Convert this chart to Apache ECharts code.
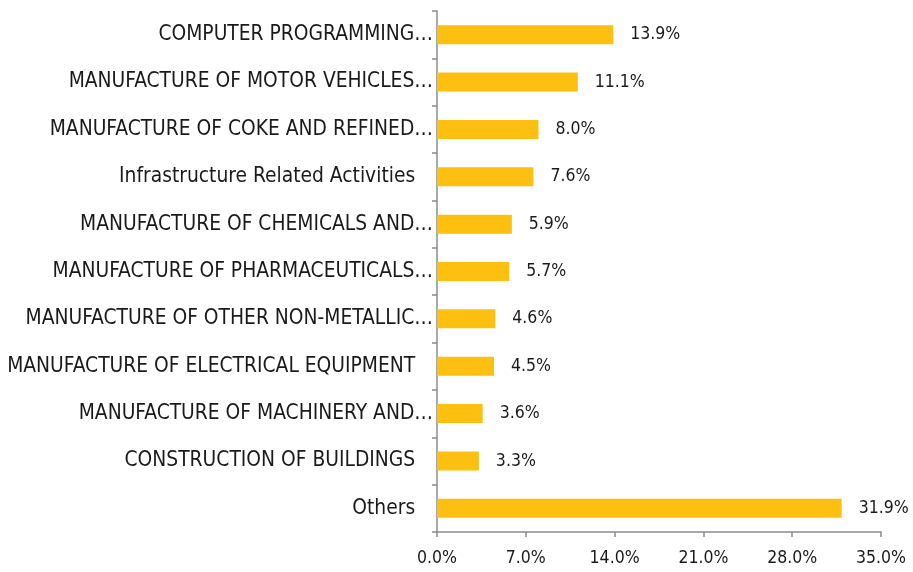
<!DOCTYPE html>
<html>
<head>
<meta charset="utf-8">
<script src="https://cdn.jsdelivr.net/npm/echarts@6/dist/echarts.min.js"></script>
<style>
  html, body { margin: 0; padding: 0; background: #fff; }
  #chart { width: 913px; height: 572px; }
</style>
</head>
<body>
<div id="chart"></div>
<script>
// 行业类别（从上到下）
const categories = [
  'COMPUTER PROGRAMMING…',
  'MANUFACTURE OF MOTOR VEHICLES…',
  'MANUFACTURE OF COKE AND REFINED…',
  'Infrastructure Related Activities   ',
  'MANUFACTURE OF CHEMICALS AND…',
  'MANUFACTURE OF PHARMACEUTICALS…',
  'MANUFACTURE OF OTHER NON-METALLIC…',
  'MANUFACTURE OF ELECTRICAL EQUIPMENT   ',
  'MANUFACTURE OF MACHINERY AND…',
  'CONSTRUCTION OF BUILDINGS   ',
  'Others   '
];
// 占比 (%)
const shares = [13.9, 11.1, 8.0, 7.6, 5.9, 5.7, 4.6, 4.5, 3.6, 3.3, 31.9];
// X轴刻度
const xMin = 0;
const xMax = 35;
const xStep = 7;

const chart = echarts.init(document.getElementById('chart'));
const font = 'DejaVu Sans Condensed';
const axisGrey = '#8c8c8c';

chart.setOption({
  animation: false,
  grid: { left: 437, right: 32, top: 11, bottom: 40 },
  xAxis: {
    type: 'value',
    min: xMin,
    max: xMax,
    interval: xStep,
    splitLine: { show: false },
    axisLine: { show: true, lineStyle: { color: axisGrey, width: 1.5 } },
    axisTick: { show: true, length: 5, lineStyle: { color: axisGrey, width: 1.5 } },
    axisLabel: {
      color: '#1a1a1a', fontFamily: font, fontSize: 17.5, margin: 17,
      formatter: v => v.toFixed(1) + '%'
    }
  },
  yAxis: {
    type: 'category',
    data: categories,
    inverse: true,
    axisLine: { show: true, lineStyle: { color: axisGrey, width: 1.5 } },
    axisTick: { show: true, length: 5, lineStyle: { color: axisGrey, width: 1.5 } },
    axisLabel: { color: '#1a1a1a', fontFamily: font, fontSize: 20.8, margin: 4 }
  },
  series: [{
    type: 'bar',
    data: shares,
    barWidth: 19,
    itemStyle: { color: '#FDBF10' },
    label: {
      show: true,
      position: 'right',
      distance: 17,
      color: '#1a1a1a',
      fontFamily: font,
      fontSize: 17.5,
      formatter: p => p.value.toFixed(1) + '%'
    }
  }]
});
</script>
</body>
</html>
